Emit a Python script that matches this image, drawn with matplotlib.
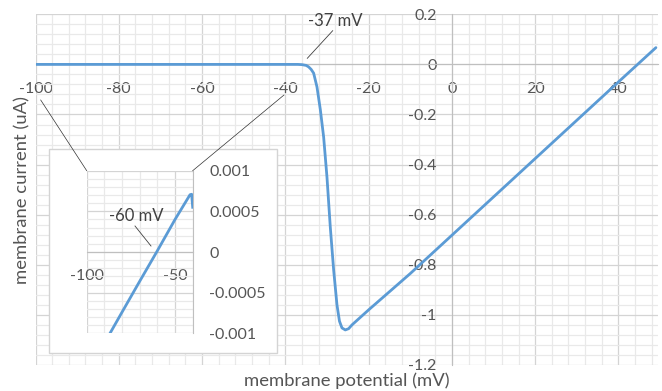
import matplotlib
matplotlib.use("Agg")
import matplotlib.pyplot as plt
from matplotlib.ticker import MultipleLocator, FixedLocator
from matplotlib.patches import Rectangle
from matplotlib.lines import Line2D

plt.rcParams['font.family'] = ['Lato', 'DejaVu Sans']

# main I-V curve
potential = [-100, -90, -80, -70, -60, -50, -40, -37, -36, -35, -34.4, -33.8,
             -33.2, -32.4, -31.6, -30.8, -30.0, -29.2, -28.4, -27.6, -27.0,
             -26.4, -25.6, -24.8, -24.0, -20, -10, 0, 10, 20, 30, 40, 49]
current = [0, 0, 0, 0, 0, 0, 0, 0, -0.001, -0.004, -0.01, -0.02,
           -0.035, -0.09, -0.18, -0.29, -0.45, -0.65, -0.82, -0.96, -1.025,
           -1.052, -1.06, -1.055, -1.04, -0.98, -0.835, -0.682, -0.529, -0.376,
           -0.223, -0.07, 0.067]

# zoomed-in part near -60 mV
inset_potential = [-86.8, -80, -70, -60.4, -50, -41.5, -40.6, -40]
inset_current = [-0.001, -0.00074, -0.00036, 0.0, 0.0004, 0.000705, 0.00071, 0.00055]

main_xticks = [-100, -80, -60, -40, -20, 0, 20, 40]
main_yticks = [0.2, 0, -0.2, -0.4, -0.6, -0.8, -1, -1.2]
main_ylabels = ["0.2", "0", "-0.2", "-0.4", "-0.6", "-0.8", "-1", "-1.2"]
inset_xticks = [-100, -50]
inset_yticks = [0.001, 0.0005, 0, -0.0005, -0.001]
inset_ylabels = ["0.001", "0.0005", "0", "-0.0005", "-0.001"]

blue = "#5b9bd5"
text_gray = "#555555"
major_gray = "#d4d4d4"
minor_gray = "#e9e9e9"
axis_gray = "#bfbfbf"
tick_size = 11.5

W, H = 662, 391
fig = plt.figure(figsize=(W / 100, H / 100), dpi=100)


def px(x0, y0, x1, y1):
    """pixel box -> figure fraction rect"""
    return [x0 / W, 1 - y1 / H, (x1 - x0) / W, (y1 - y0) / H]


def style_axes(ax, xminor, yminor):
    ax.xaxis.set_minor_locator(MultipleLocator(xminor))
    ax.yaxis.set_minor_locator(MultipleLocator(yminor))
    ax.grid(which='major', color=major_gray, linewidth=0.9)
    ax.grid(which='minor', color=minor_gray, linewidth=0.9)
    ax.set_axisbelow(True)
    ax.tick_params(which='both', length=0, labelsize=tick_size, labelcolor=text_gray)
    for s in ax.spines.values():
        s.set_visible(False)


ax = fig.add_axes(px(35.5, 14.3, 658, 365))
ax.plot(potential, current, color=blue, linewidth=2.0, solid_joinstyle='round',
        solid_capstyle='round', zorder=3)
ax.set_xlim(-100, 49.5)
ax.set_ylim(-1.2, 0.2)
style_axes(ax, 4, 0.04)
ax.xaxis.set_major_locator(FixedLocator(main_xticks))
ax.set_xticklabels([str(t) for t in main_xticks])
ax.yaxis.set_major_locator(FixedLocator(main_yticks))
ax.set_yticklabels(main_ylabels)
ax.spines['left'].set_visible(True)
ax.spines['left'].set_position(('data', 0))
ax.spines['left'].set_color(axis_gray)
ax.spines['bottom'].set_visible(True)
ax.spines['bottom'].set_position(('data', 0))
ax.spines['bottom'].set_color(axis_gray)
ax.tick_params(axis='x', pad=13)
ax.tick_params(axis='y', pad=11)

fig.text(347 / W, 1 - 381 / H, "membrane potential (mV)", ha='center', va='center',
         fontsize=13.3, color=text_gray)
fig.text(22 / W, 1 - 190 / H, "membrane current (uA)", ha='center', va='center',
         rotation=90, fontsize=13.3, color=text_gray)

# -37 mV label
fig.text(335 / W, 1 - 21 / H, "-37 mV", ha='center', va='center', fontsize=12,
         color="#404040")
fig.add_artist(Line2D([307.3 / W, 332.7 / W], [1 - 58.3 / H, 1 - 30.7 / H],
                      color="#404040", linewidth=0.6))

# inset box
box = Rectangle((49.3 / W, 1 - 353.3 / H), (277.3 - 49.3) / W, (353.3 - 149.3) / H,
                transform=fig.transFigure, facecolor='white', edgecolor=major_gray,
                linewidth=1.0, zorder=1)
fig.add_artist(box)

ins = fig.add_axes(px(86.7, 170.7, 192.7, 333.3), zorder=2)
ins.plot(inset_potential, inset_current, color=blue, linewidth=2.0,
         solid_joinstyle='round', zorder=3)
ins.set_xlim(-100, -40)
ins.set_ylim(-0.001, 0.001)
style_axes(ins, 10, 0.0001)
ins.xaxis.set_major_locator(FixedLocator(inset_xticks))
ins.set_xticklabels([str(t) for t in inset_xticks])
ins.yaxis.set_major_locator(FixedLocator(inset_yticks))
ins.set_yticklabels(inset_ylabels)
ins.yaxis.tick_right()
ins.spines['right'].set_visible(True)
ins.spines['right'].set_color(axis_gray)
ins.spines['bottom'].set_visible(True)
ins.spines['bottom'].set_position(('data', 0))
ins.spines['bottom'].set_color(axis_gray)
ins.tick_params(axis='x', pad=12)
ins.tick_params(axis='y', pad=12)

fig.text(136.7 / W, 1 - 216 / H, "-60 mV", ha='center', va='center', fontsize=12,
         color="#404040", zorder=4)
fig.add_artist(Line2D([135 / W, 151 / W], [1 - 226 / H, 1 - 246 / H],
                      color="#404040", linewidth=0.6, zorder=4))

# connector lines from main axis to inset
fig.add_artist(Line2D([40.7 / W, 86.7 / W], [1 - 100 / H, 1 - 170.7 / H],
                      color="#303030", linewidth=0.5, zorder=4))
fig.add_artist(Line2D([284 / W, 192.7 / W], [1 - 95 / H, 1 - 170.7 / H],
                      color="#303030", linewidth=0.5, zorder=4))

fig.savefig("out.png", dpi=100)
